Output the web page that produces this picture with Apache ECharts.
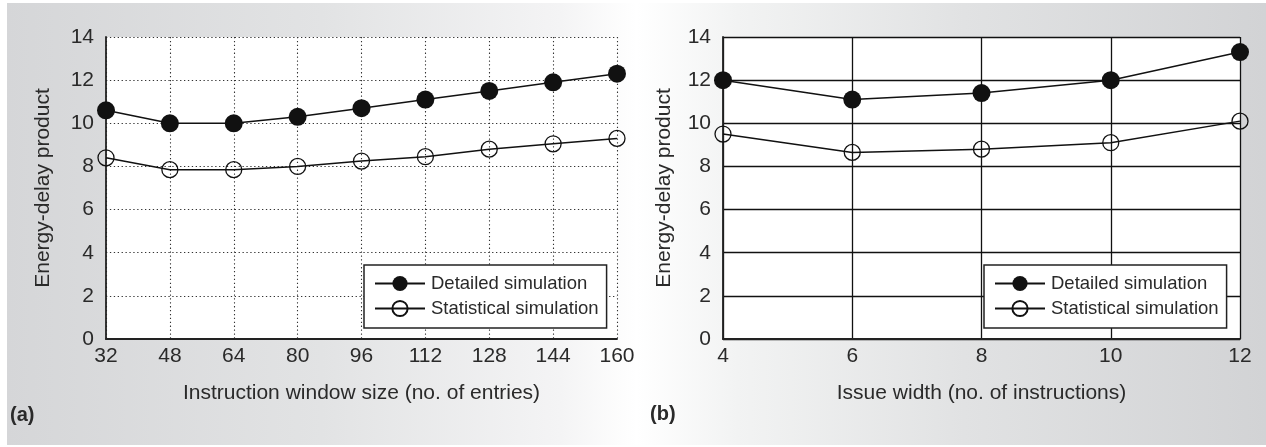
<!DOCTYPE html>
<html>
<head>
<meta charset="utf-8">
<script src="https://cdn.jsdelivr.net/npm/echarts@6/dist/echarts.min.js"></script>
<style>
    html, body { margin: 0; padding: 0; background: #fff; }
    .wrap { position: relative; width: 1266px; height: 447px; overflow: hidden; }
    .panel {
        position: absolute; left: 7px; top: 3px; right: 0; bottom: 2px;
        background: linear-gradient(90deg, #d5d6d8 0%, #e2e3e4 25%, #f4f4f5 44%, #ffffff 50%, #f2f3f3 58%, #e1e2e3 76%, #d2d3d5 100%);
    }
    #chart { position: absolute; left: 0; top: 0; width: 1266px; height: 447px; }
</style>
</head>
<body>
<div class="wrap">
    <div class="panel"></div>
    <div id="chart"></div>
</div>
<script>
// (a) instruction window size
const windowSizes = [32, 48, 64, 80, 96, 112, 128, 144, 160];
const windowDetailed = [10.6, 10.0, 10.0, 10.3, 10.7, 11.1, 11.5, 11.9, 12.3];
const windowStatistical = [8.4, 7.85, 7.85, 8.0, 8.25, 8.45, 8.8, 9.05, 9.3];

// (b) issue width
const issueWidths = [4, 6, 8, 10, 12];
const issueDetailed = [12.0, 11.1, 11.4, 12.0, 13.3];
const issueStatistical = [9.5, 8.65, 8.8, 9.1, 10.1];

const yTicks = { min: 0, max: 14, interval: 2 };

const textColor = "#2a2a2a";
const font = "Liberation Sans, Arial, Helvetica, sans-serif";

function pairs(xs, ys) {
    return xs.map((x, i) => [x, ys[i]]);
}

function makeLegend(left) {
    return {
        left: left, top: 265,
        orient: "vertical",
        backgroundColor: "#fff",
        borderColor: "#222",
        borderWidth: 1.5,
        borderRadius: 0,
        padding: [9, 8, 10, 10],
        itemGap: 6,
        itemWidth: 50,
        itemHeight: 19,
        textStyle: { color: textColor, fontSize: 18.5, fontFamily: font, padding: [0, 0, 0, 1] },
        data: ["Detailed simulation", "Statistical simulation"],
    };
}

function gridLine(dotted) {
    return dotted
        ? { color: "#333", width: 1.1, type: [1.3, 2.6] }
        : { color: "#111", width: 1.3, type: "solid" };
}

function makeXAxis(idx, min, max, interval, name, dotted) {
    return {
        type: "value", gridIndex: idx,
        min: min, max: max, interval: interval,
        name: name, nameLocation: "middle", nameGap: 44,
        nameTextStyle: { color: textColor, fontSize: 21, fontFamily: font },
        axisLine: { show: true, onZero: false, lineStyle: { color: "#222", width: 1.8 } },
        axisTick: { show: false },
        axisLabel: { color: textColor, fontSize: 21, fontFamily: font, margin: 7 },
        splitLine: { show: true, lineStyle: gridLine(dotted) },
    };
}

function makeYAxis(idx, nameGap, dotted) {
    return {
        type: "value", gridIndex: idx,
        min: yTicks.min, max: yTicks.max, interval: yTicks.interval,
        name: "Energy-delay product", nameLocation: "middle", nameGap: nameGap,
        nameTextStyle: { color: textColor, fontSize: 21, fontFamily: font },
        axisLine: { show: true, lineStyle: { color: "#222", width: 1.8 } },
        axisTick: { show: false },
        axisLabel: { color: textColor, fontSize: 21, fontFamily: font, margin: 12 },
        splitLine: { show: true, lineStyle: gridLine(dotted) },
    };
}

function makeSeries(name, data, idx, filled) {
    return {
        name: name,
        type: "line",
        xAxisIndex: idx, yAxisIndex: idx,
        data: data,
        symbol: "circle",
        symbolSize: filled ? 18 : 16,
        showAllSymbol: true,
        clip: false,
        lineStyle: { color: "#111", width: 1.5 },
        itemStyle: filled
            ? { color: "#111", borderColor: "#111", borderWidth: 0 }
            : { color: "rgba(0,0,0,0)", borderColor: "#111", borderWidth: 1.3 },
        emphasis: { disabled: true },
        animation: false,
    };
}

let option = {
    backgroundColor: "transparent",
    animation: false,
    grid: [
        { left: 106, top: 37, width: 511, height: 302, show: true, backgroundColor: "#fff", borderWidth: 0 },
        { left: 723, top: 37, width: 517, height: 302, show: true, backgroundColor: "#fff", borderWidth: 0 },
    ],
    legend: [
        Object.assign(makeLegend(364), { id: "la" }),
        Object.assign(makeLegend(984), { id: "lb" }),
    ],
    xAxis: [
        makeXAxis(0, 32, 160, 16, "Instruction window size (no. of entries)", true),
        makeXAxis(1, 4, 12, 2, "Issue width (no. of instructions)", false),
    ],
    yAxis: [
        makeYAxis(0, 52, true),
        makeYAxis(1, 48, false),
    ],
    series: [
        makeSeries("Detailed simulation", pairs(windowSizes, windowDetailed), 0, true),
        makeSeries("Statistical simulation", pairs(windowSizes, windowStatistical), 0, false),
        makeSeries("Detailed simulation", pairs(issueWidths, issueDetailed), 1, true),
        makeSeries("Statistical simulation", pairs(issueWidths, issueStatistical), 1, false),
    ],
    graphic: [
        { type: "text", left: 10, top: 405, style: { text: "(a)", fill: textColor, font: "bold 20px " + font } },
        { type: "text", left: 650, top: 404, style: { text: "(b)", fill: textColor, font: "bold 20px " + font } },
    ],
};

let mychart = echarts.init(document.getElementById("chart"), null, { renderer: "canvas" });
mychart.setOption(option);
</script>
</body>
</html>
